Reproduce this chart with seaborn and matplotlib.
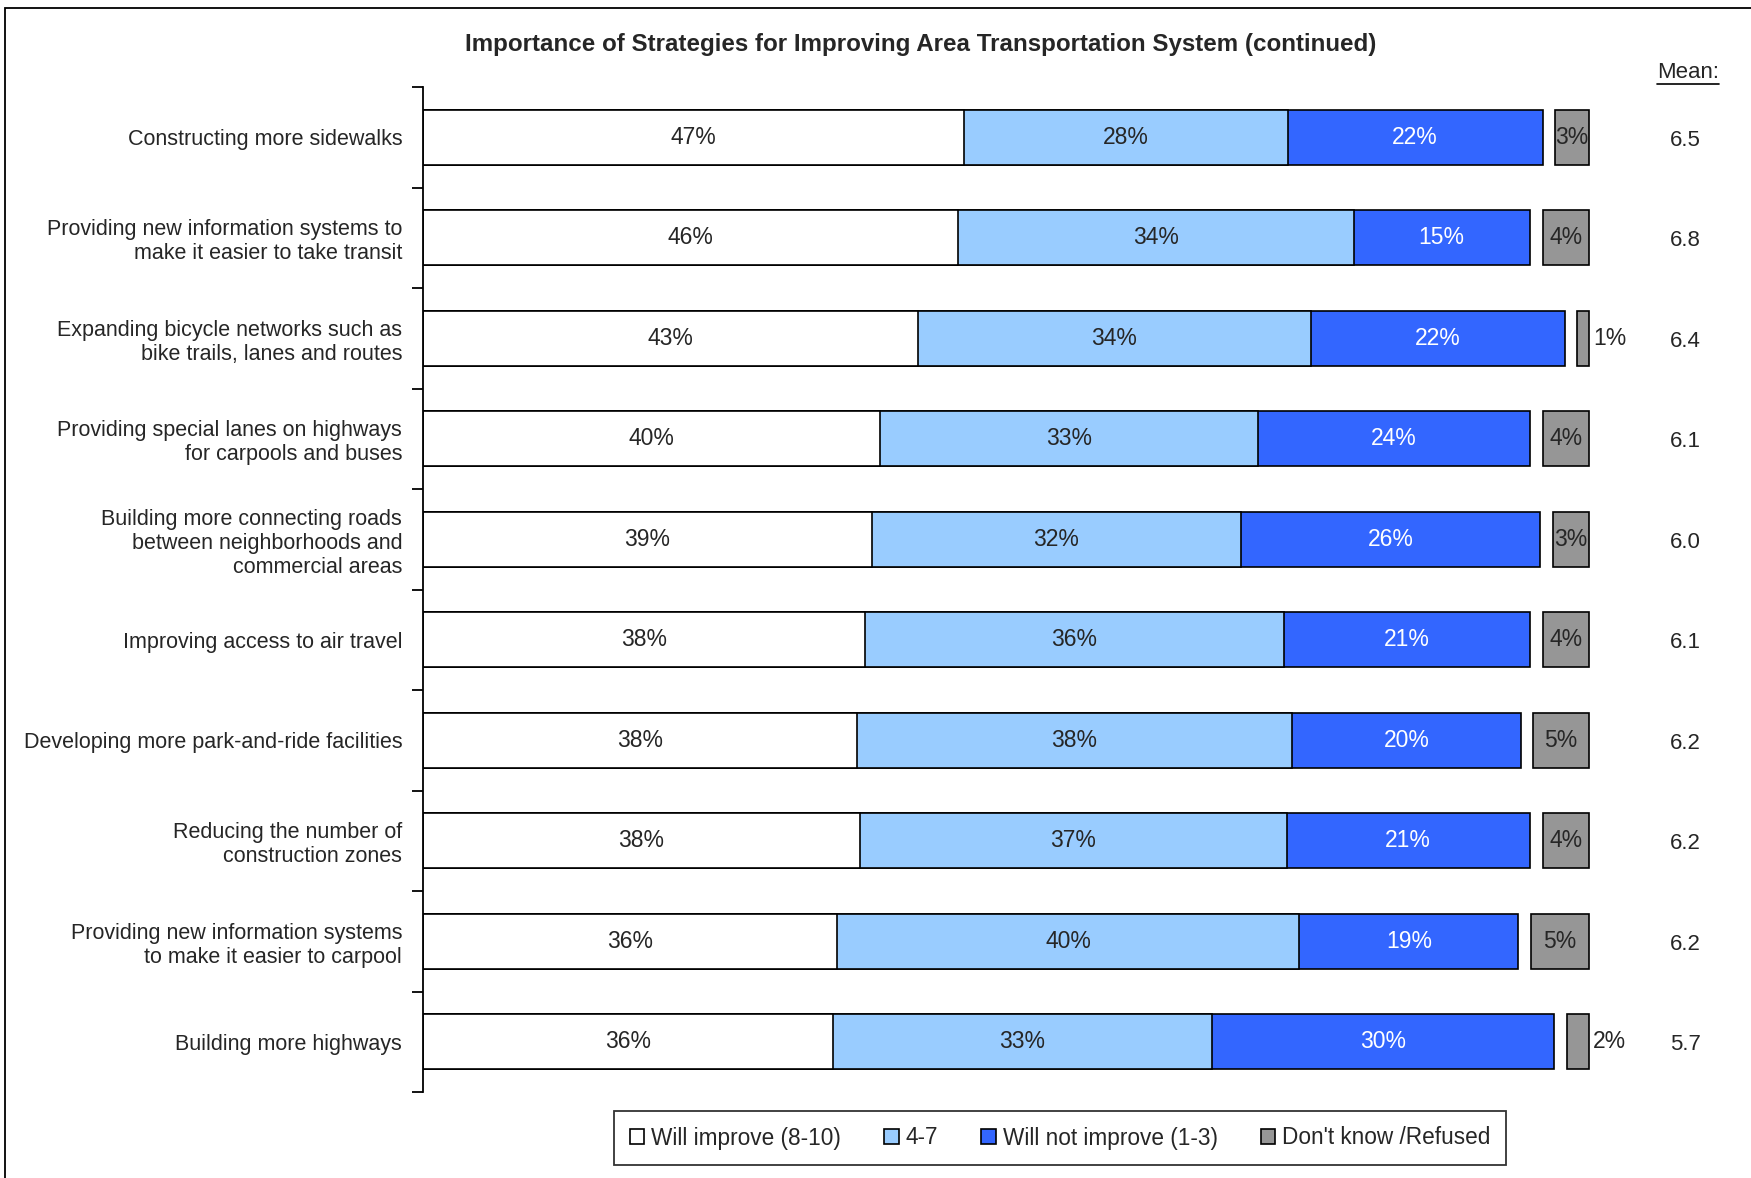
import numpy as np
import pandas as pd
import matplotlib.pyplot as plt
import seaborn as sns
from matplotlib.patches import Rectangle, Patch
from matplotlib.lines import Line2D

# chart data (shares, labels show them rounded)
strategies = [
    "Constructing more sidewalks",
    "Providing new information systems to\nmake it easier to take transit",
    "Expanding bicycle networks such as\nbike trails, lanes and routes",
    "Providing special lanes on highways\nfor carpools and buses",
    "Building more connecting roads\nbetween neighborhoods and\ncommercial areas",
    "Improving access to air travel",
    "Developing more park-and-ride facilities",
    "Reducing the number of\nconstruction zones",
    "Providing new information systems\nto make it easier to carpool",
    "Building more highways",
]
will_improve = [46.9, 46.4, 42.9, 39.6, 38.9, 38.3, 37.6, 37.9, 35.9, 35.6]
mid_4_7 = [28.1, 34.3, 34.1, 32.8, 32.0, 36.4, 37.8, 37.0, 40.1, 32.8]
will_not = [22.1, 15.3, 22.0, 23.6, 26.0, 21.3, 19.8, 21.1, 19.0, 29.7]
dont_know = [2.9, 4.0, 1.0, 4.0, 3.1, 4.0, 4.8, 4.0, 5.0, 1.9]
means = [6.5, 6.8, 6.4, 6.1, 6.0, 6.1, 6.2, 6.2, 6.2, 5.7]
legend_labels = ["Will improve (8-10)", "4-7", "Will not improve (1-3)", "Don't know /Refused"]

c_white = "white"
c_light = "#99CCFF"
c_dark = "#3366FF"
c_gray = "#969696"

df = pd.DataFrame({
    "strategy": strategies,
    "improve": will_improve,
    "mid": mid_4_7,
    "not": will_not,
    "dk": dont_know,
})
df["cum1"] = df["improve"]
df["cum2"] = df["improve"] + df["mid"]
df["cum3"] = df["cum2"] + df["not"]

sns.set_style("white")
plt.rcParams["font.family"] = ["Liberation Sans", "DejaVu Sans"]

W, H = 1751, 1178
fig = plt.figure(figsize=(W / 100, H / 100), dpi=100)
ax = fig.add_axes([423 / W, (H - 1092) / H, 1326 / W, (1092 - 87) / H])

edge = dict(edgecolor="black", linewidth=1.2)
bw = 0.55
# layered cumulative bars: widest first
sns.barplot(data=df, x="cum3", y="strategy", color=c_dark, width=bw, saturation=1, ax=ax, **edge)
sns.barplot(data=df, x="cum2", y="strategy", color=c_light, width=bw, saturation=1, ax=ax, **edge)
sns.barplot(data=df, x="cum1", y="strategy", color=c_white, width=bw, saturation=1, ax=ax, **edge)

# don't know bars sit apart after a small gap
gap = 1.1
ypos = np.arange(len(strategies))
dk_left = df["cum3"].values + gap
ax.barh(ypos, df["dk"].values, left=dk_left, height=bw, color=c_gray, **edge)

fs = 15.5
fs_bar = 16.5
for i, row in df.iterrows():
    ax.text(row["improve"] / 2, i, f"{row['improve']:.0f}%", ha="center", va="center", fontsize=fs_bar)
    ax.text(row["cum1"] + row["mid"] / 2, i, f"{row['mid']:.0f}%", ha="center", va="center", fontsize=fs_bar)
    ax.text(row["cum2"] + row["not"] / 2, i, f"{row['not']:.0f}%", ha="center", va="center",
            fontsize=fs_bar, color="white")
    if row["dk"] >= 2.5:
        ax.text(dk_left[i] + row["dk"] / 2, i, f"{row['dk']:.0f}%", ha="center", va="center",
                fontsize=fs_bar)
    else:
        ax.text(dk_left[i] + row["dk"] + 0.4, i, f"{row['dk']:.0f}%", ha="left", va="center",
                fontsize=fs_bar)
    ax.text(109.5, i + 0.03, f"{means[i]:.1f}", ha="center", va="center", fontsize=fs_bar - 0.5)

ax.set_xlim(0, 115)
ax.set_ylim(len(strategies) - 0.5, -0.5)
ax.set_xlabel("")
ax.set_ylabel("")
ax.xaxis.set_visible(False)
for s in ["top", "right", "bottom"]:
    ax.spines[s].set_visible(False)
ax.spines["left"].set_linewidth(1.3)
ax.spines["left"].set_color("black")
ax.set_yticks(ypos)
ax.set_yticklabels(strategies, fontsize=fs)
ax.set_yticks(np.arange(-0.5, len(strategies)), minor=True)
ax.tick_params(axis="y", which="major", length=0, pad=15)
ax.tick_params(axis="y", which="minor", length=8, width=1.3, color="black", left=True)

# title and mean header
fig.text(921 / W, 1 - 45 / H, "Importance of Strategies for Improving Area Transportation System (continued)",
         ha="center", va="center", fontsize=17.4, fontweight="bold")
fig.text(1688 / W, 1 - 73 / H, "Mean:", ha="center", va="center", fontsize=fs_bar - 0.5)
fig.add_artist(Line2D([1657 / W, 1719 / W], [1 - 84 / H, 1 - 84 / H], color="black", linewidth=1.2))

handles = [Patch(facecolor=c, edgecolor="black", linewidth=1.2) for c in [c_white, c_light, c_dark, c_gray]]
leg = fig.legend(handles, legend_labels, loc="center", bbox_to_anchor=(1060 / W, 40 / H), ncol=4,
                 fontsize=16.3, frameon=True, fancybox=False, edgecolor="black", handlelength=0.65,
                 handleheight=0.65, handletextpad=0.3, columnspacing=1.9, borderpad=0.7,
                 borderaxespad=0)
leg.get_frame().set_linewidth(1.3)

# outer frame
fig.add_artist(Rectangle((5 / W, -0.1), 1.2, 1.1 - 8 / H, transform=fig.transFigure,
                         fill=False, edgecolor="black", linewidth=1.3))

fig.savefig("out.png", dpi=100)
